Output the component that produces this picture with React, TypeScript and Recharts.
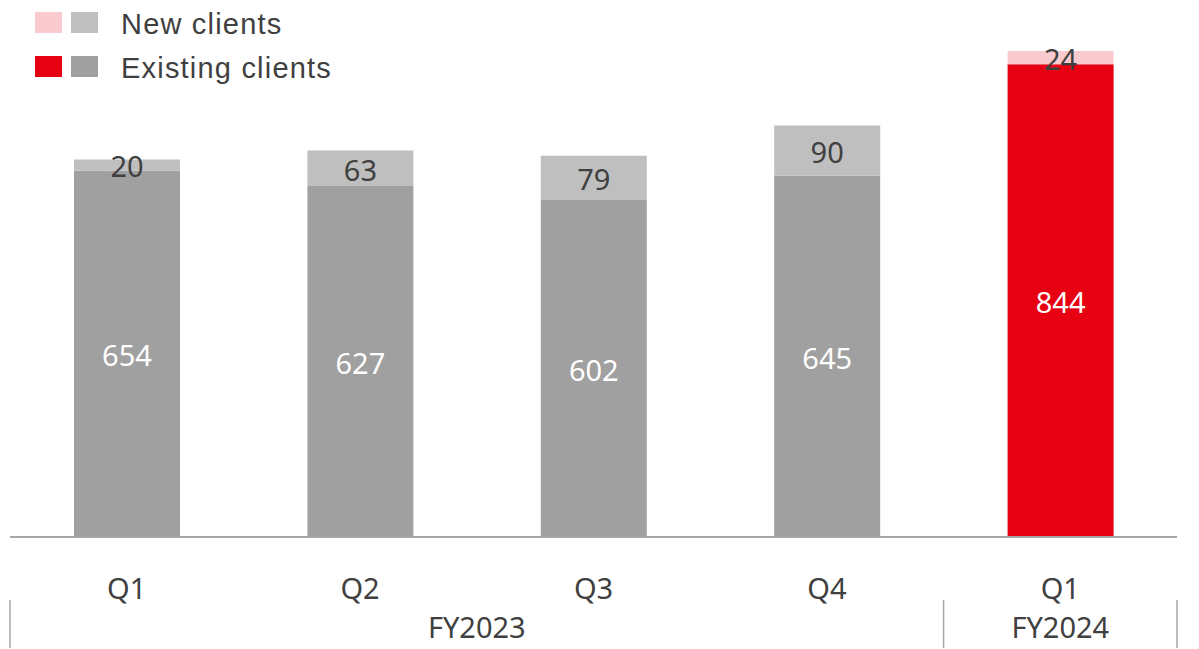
import { BarChart, Bar, XAxis, YAxis, Cell, LabelList } from "recharts";

const quarters = ["Q1", "Q2", "Q3", "Q4", "Q1"];
const fiscalYears = ["FY2023", "FY2023", "FY2023", "FY2023", "FY2024"];
const existingClients = [654, 627, 602, 645, 844];
const newClients = [20, 63, 79, 90, 24];
const yDomain = [0, 900];

const WIDTH = 1199;
const HEIGHT = 649;
const MARGIN = { top: 33, right: 22, bottom: 0, left: 10 };
const BAND = (WIDTH - MARGIN.left - MARGIN.right) / quarters.length;

const NUM_FONT = "'Noto Sans', sans-serif";
const TEXT_COLOR = "#404040";

const existingColors = ["#A0A0A0", "#A0A0A0", "#A0A0A0", "#A0A0A0", "#E60012"];
const newColors = ["#BFBFBF", "#BFBFBF", "#BFBFBF", "#BFBFBF", "#FACBCE"];

const chartData = quarters.map((q, i) => ({
  key: `${fiscalYears[i]}-${q}`,
  quarter: q,
  existing: existingClients[i],
  added: newClients[i],
}));

function QuarterTick(props: any) {
  const { x, y, index } = props;
  const fy = fiscalYears[index];
  const first = index === 0 || fiscalYears[index - 1] !== fy;
  const last = index === fiscalYears.length - 1;
  const span = fiscalYears.filter((f) => f === fy).length;
  const left = x - BAND / 2;
  return (
    <g>
      <text
        x={x}
        y={y + 62}
        textAnchor="middle"
        fill={TEXT_COLOR}
        fontSize={29}
        fontFamily={NUM_FONT}
      >
        {quarters[index]}
      </text>
      {first && (
        <>
          <line x1={left} x2={left} y1={y + 63} y2={y + 111} stroke="#A6A6A6" strokeWidth={1.5} />
          <text
            x={left + (span * BAND) / 2}
            y={y + 101}
            textAnchor="middle"
            fill={TEXT_COLOR}
            fontSize={29}
            fontFamily={NUM_FONT}
          >
            {fy}
          </text>
        </>
      )}
      {last && (
        <line x1={x + BAND / 2} x2={x + BAND / 2} y1={y + 63} y2={y + 111} stroke="#A6A6A6" strokeWidth={1.5} />
      )}
    </g>
  );
}

const legendText = {
  position: "absolute" as const,
  left: 121,
  fontFamily: "'Liberation Sans', Arial, sans-serif",
  fontSize: 29,
  letterSpacing: "1.2px",
  lineHeight: "29px",
  color: TEXT_COLOR,
  whiteSpace: "nowrap" as const,
};

function Swatch({ left, top, color }: { left: number; top: number; color: string }) {
  return (
    <div style={{ position: "absolute", left, top, width: 27, height: 21, background: color }} />
  );
}

export default function App() {
  return (
    <div style={{ position: "absolute", left: 0, top: 0, width: WIDTH, height: HEIGHT, background: "#fff" }}>
      <BarChart width={WIDTH} height={HEIGHT} data={chartData} margin={MARGIN}>
        <XAxis
          dataKey="key"
          height={112}
          tickLine={false}
          tickSize={0}
          tickMargin={0}
          axisLine={{ stroke: "#A6A6A6", strokeWidth: 2 }}
          tick={<QuarterTick />}
          interval={0}
        />
        <YAxis hide domain={yDomain} />
        <Bar dataKey="existing" stackId="a" barSize={106} isAnimationActive={false}>
          {chartData.map((d, i) => (
            <Cell key={d.key} fill={existingColors[i]} />
          ))}
          <LabelList
            dataKey="existing"
            position="center"
            fill="#FFFFFF"
            fontSize={29}
            fontFamily={NUM_FONT}
            dy={2}
          />
        </Bar>
        <Bar dataKey="added" stackId="a" barSize={106} isAnimationActive={false}>
          {chartData.map((d, i) => (
            <Cell key={d.key} fill={newColors[i]} />
          ))}
          <LabelList
            dataKey="added"
            position="center"
            fill={TEXT_COLOR}
            fontSize={29}
            fontFamily={NUM_FONT}
            dy={2}
          />
        </Bar>
      </BarChart>
      <Swatch left={35} top={12} color={newColors[4]} />
      <Swatch left={71} top={12} color={newColors[0]} />
      <div style={{ ...legendText, top: 10 }}>New clients</div>
      <Swatch left={35} top={56} color={existingColors[4]} />
      <Swatch left={71} top={56} color={existingColors[0]} />
      <div style={{ ...legendText, top: 54 }}>Existing clients</div>
    </div>
  );
}
